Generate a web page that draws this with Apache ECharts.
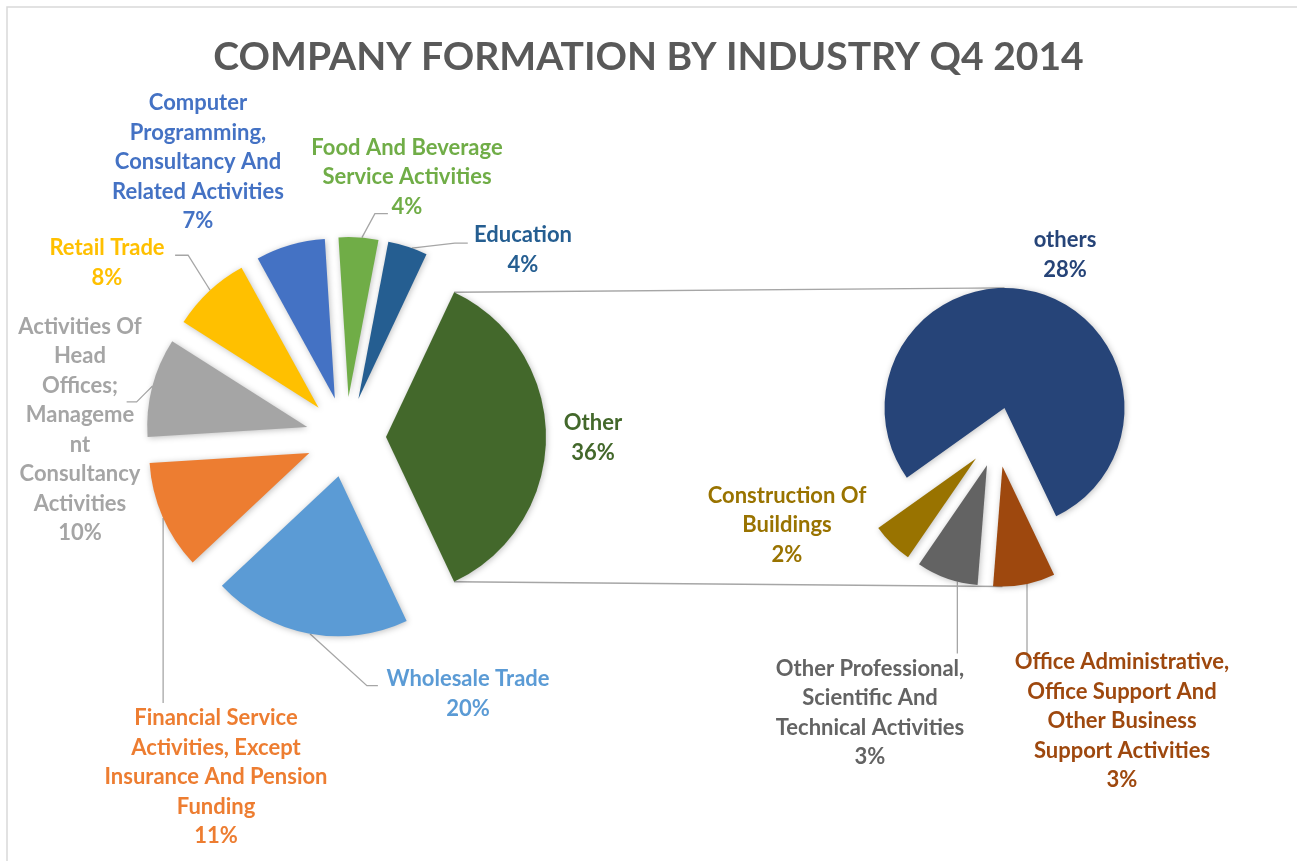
<!DOCTYPE html>
<html>
<head>
<meta charset="utf-8">
<script src="https://cdn.jsdelivr.net/npm/echarts@6/dist/echarts.min.js"></script>
<style>
  html, body { margin: 0; padding: 0; background: #fff; }
  #chart { width: 1297px; height: 861px; }
</style>
</head>
<body>
<div id="chart"></div>
<script>
// main pie, starting with the split-off "Other" slice, counter-clockwise
const mainNames = [
  'Other',
  'Education',
  'Food And Beverage Service Activities',
  'Computer Programming, Consultancy And Related Activities',
  'Retail Trade',
  'Activities Of Head Offices; Management Consultancy Activities',
  'Financial Service Activities, Except Insurance And Pension Funding',
  'Wholesale Trade'
];
const mainLabels = [
  'Other',
  'Education',
  'Food And Beverage\nService Activities',
  'Computer\nProgramming,\nConsultancy And\nRelated Activities',
  'Retail Trade',
  'Activities Of\nHead\nOffices;\nManageme\nnt\nConsultancy\nActivities',
  'Financial Service\nActivities, Except\nInsurance And Pension\nFunding',
  'Wholesale Trade'
];
const mainValues = [36, 4, 4, 7, 8, 10, 11, 20];

// second pie: breakdown of "Other"
const subNames = [
  'others',
  'Construction Of Buildings',
  'Other Professional, Scientific And Technical Activities',
  'Office Administrative, Office Support And Other Business Support Activities'
];
const subLabels = [
  'others',
  'Construction Of\nBuildings',
  'Other Professional,\nScientific And\nTechnical Activities',
  'Office Administrative,\nOffice Support And\nOther Business\nSupport Activities'
];
const subValues = [28, 2, 3, 3];

const mainColors = ['#43682B', '#255E91', '#70AD47', '#4472C4', '#FFC000', '#A5A5A5', '#ED7D31', '#5B9BD5'];
const subColors = ['#264478', '#997300', '#636363', '#9E480E'];

// label anchor points (centre of each text block)
const mainLabelPos = [[593, 438], [523, 250], [407, 177], [198, 162], [107, 263], [80, 430], [216, 777], [468, 694]];
const subLabelPos = [[1065, 255], [787, 525], [870, 713], [1122, 721]];

// leader lines: angle on the slice's rim, then relative steps (null = no line)
const mainLeaders = [
  null,
  { a: 70.5, steps: [[43, -5], [13, 0]] },
  { a: 85.2, steps: [[13, -24], [13, 0]] },
  null,
  { a: 132.7, steps: [[-22, -35], [-13, 0]] },
  { a: 165.1, steps: [[-16, 16], [-10, 0]] },
  { a: 204, steps: [[0, 185]] },
  { a: 259.7, steps: [[57, 52], [11, 0]] }
];
const subLeaders = [
  null,
  null,
  { a: 255.7, steps: [[0, 72]] },
  { a: 281.8, steps: [[0, 76]] }
];

const font = 'Lato, "Open Sans", sans-serif';

const main = { cx: 346, cy: 437, r: 160, off: 40, start: -mainValues[0] / 100 * 180 };
const sub = { cx: 997, cy: 437, r: 120, off: 30, start: -64.5 };

const rad = d => d * Math.PI / 180;

// point on the rim of an exploded slice
const rimPoint = (g, values, idx, angle) => {
  const total = values.reduce((a, b) => a + b, 0);
  let acc = 0;
  for (let i = 0; i < idx; i++) acc += values[i];
  const mid = g.start + (acc + values[idx] / 2) / total * 360;
  const cx = g.cx + g.off * Math.cos(rad(mid));
  const cy = g.cy - g.off * Math.sin(rad(mid));
  return [cx + g.r * Math.cos(rad(angle)), cy - g.r * Math.sin(rad(angle))];
};

const leaderPoints = (g, values, idx, spec) => {
  const pts = [rimPoint(g, values, idx, spec.a)];
  spec.steps.forEach(s => {
    const last = pts[pts.length - 1];
    pts.push([last[0] + s[0], last[1] + s[1]]);
  });
  return pts;
};

const chart = echarts.init(document.getElementById('chart'));

// exploded slices (no labels)
const sliceSeries = (g, names, values, colors) => ({
  type: 'pie',
  z: 3,
  center: [g.cx, g.cy],
  radius: g.r,
  startAngle: g.start,
  clockwise: false,
  selectedMode: 'multiple',
  selectedOffset: g.off,
  silent: true,
  animation: false,
  label: { show: false },
  labelLine: { show: false },
  itemStyle: {
    shadowBlur: 6,
    shadowColor: 'rgba(0,0,0,0.25)',
    shadowOffsetX: 1,
    shadowOffsetY: 1
  },
  data: names.map((n, i) => ({ name: n, value: values[i], selected: true, itemStyle: { color: colors[i] } }))
});

// same slices, invisible, carrying the data labels
const labelSeries = (g, names, labels, values, colors, leaders, pos) => ({
  type: 'pie',
  z: 1,
  center: [g.cx, g.cy],
  radius: g.r,
  startAngle: g.start,
  clockwise: false,
  avoidLabelOverlap: false,
  silent: true,
  animation: false,
  itemStyle: { color: 'rgba(0,0,0,0)' },
  label: {
    show: true,
    position: 'outside',
    fontFamily: font,
    fontWeight: 'bold',
    fontSize: 22,
    lineHeight: 29.5,
    align: 'center'
  },
  labelLine: {
    show: true,
    length: 12,
    length2: 12,
    lineStyle: { color: '#A6A6A6', width: 1.3 }
  },
  labelLayout: p => {
    const out = { x: pos[p.dataIndex][0], y: pos[p.dataIndex][1], align: 'center', verticalAlign: 'middle' };
    const spec = leaders[p.dataIndex];
    if (spec) out.labelLinePoints = leaderPoints(g, values, p.dataIndex, spec);
    return out;
  },
  data: names.map((n, i) => ({
    name: n,
    value: values[i],
    label: { color: colors[i], formatter: labels[i] + '\n' + values[i] + '%' },
    labelLine: { show: !!leaders[i] }
  }))
});

// connector lines between the "Other" slice and the second pie
const half = mainValues[0] / 100 * 180;
const otherTop = [main.cx + main.off + main.r * Math.cos(rad(half)), main.cy - main.r * Math.sin(rad(half))];
const otherBot = [otherTop[0], main.cy + main.r * Math.sin(rad(half))];
const subTotal = subValues.reduce((a, b) => a + b, 0);
const othersMid = sub.start + subValues[0] / subTotal * 180;
const lastMid = sub.start + 360 - subValues[subValues.length - 1] / subTotal * 180;
const subTop = [sub.cx + sub.off * Math.cos(rad(othersMid)), sub.cy - sub.off * Math.sin(rad(othersMid)) - sub.r];
const subBot = [sub.cx + sub.off * Math.cos(rad(lastMid)), sub.cy - sub.off * Math.sin(rad(lastMid)) + sub.r];

chart.setOption({
  backgroundColor: '#fff',
  title: {
    text: 'COMPANY FORMATION BY INDUSTRY Q4 2014',
    left: 'center',
    top: 33,
    textStyle: { fontFamily: font, fontWeight: 'bold', fontSize: 39, color: '#595959' }
  },
  graphic: [
    { type: 'rect', shape: { x: 7, y: 7, width: 1400, height: 1000 }, style: { fill: 'none', stroke: '#D9D9D9', lineWidth: 1.5 }, silent: true },
    { type: 'line', shape: { x1: otherTop[0], y1: otherTop[1], x2: subTop[0], y2: subTop[1] }, style: { stroke: '#A6A6A6', lineWidth: 1.3 }, silent: true },
    { type: 'line', shape: { x1: otherBot[0], y1: otherBot[1], x2: subBot[0], y2: subBot[1] }, style: { stroke: '#A6A6A6', lineWidth: 1.3 }, silent: true }
  ],
  series: [
    labelSeries(main, mainNames, mainLabels, mainValues, mainColors, mainLeaders, mainLabelPos),
    labelSeries(sub, subNames, subLabels, subValues, subColors, subLeaders, subLabelPos),
    sliceSeries(main, mainNames, mainValues, mainColors),
    sliceSeries(sub, subNames, subValues, subColors)
  ]
});
</script>
</body>
</html>
